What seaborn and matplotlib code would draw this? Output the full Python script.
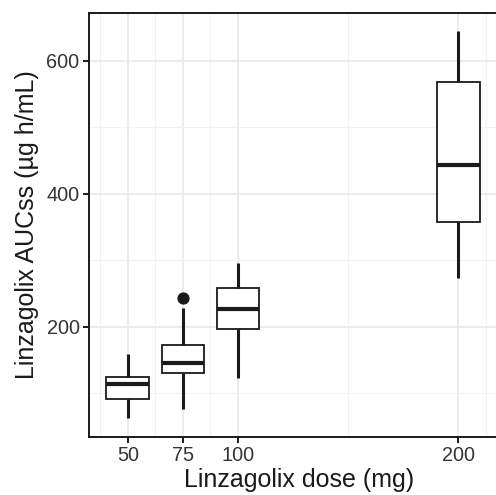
import numpy as np
import pandas as pd
import matplotlib
matplotlib.use("Agg")
import matplotlib.pyplot as plt
import seaborn as sns
from matplotlib.ticker import FixedLocator

# Reconstructed observations (read from box statistics: min, q1, median, q3, max)
dose_50 = [63.6, 80.0, 91.3, 102.0, 114.3, 119.0, 124.4, 140.0, 159.4]
dose_75 = [77.2, 105.0, 130.4, 138.0, 145.4, 160.0, 173.0, 228.0, 243.0]
dose_100 = [122.8, 165.0, 196.5, 212.0, 227.0, 243.0, 259.0, 280.0, 295.8]
dose_200 = [273.0, 320.0, 358.0, 400.0, 443.6, 505.0, 568.0, 610.0, 645.0]

doses = [50, 75, 100, 200]
x_ticks = [50, 75, 100, 200]
y_ticks = [200, 400, 600]

df = pd.DataFrame({
    "dose": [50] * len(dose_50) + [75] * len(dose_75) + [100] * len(dose_100) + [200] * len(dose_200),
    "auc": dose_50 + dose_75 + dose_100 + dose_200,
})

sns.set_theme(style="white")
plt.rcParams["font.family"] = ["Liberation Sans", "DejaVu Sans"]

fig = plt.figure(figsize=(4.96, 4.95), dpi=100)
ax = fig.add_axes([89 / 496, 58 / 495, 421 / 496, 424 / 495])

sns.boxplot(
    data=df, x="dose", y="auc", native_scale=True, width=0.78,
    color="white", linecolor="#1a1a1a", linewidth=1.3,
    medianprops=dict(linewidth=3.0, color="#1a1a1a"),
    whiskerprops=dict(linewidth=2.2, color="#1a1a1a"),
    capprops=dict(linewidth=0),
    flierprops=dict(marker="o", markersize=7.8, markerfacecolor="#1a1a1a",
                    markeredgecolor="#1a1a1a"),
    ax=ax, zorder=3,
)

ax.set_xlim(32.3, 223.6)
ax.set_ylim(34.6, 672)
ax.xaxis.set_major_locator(FixedLocator(x_ticks))
ax.yaxis.set_major_locator(FixedLocator(y_ticks))
ax.xaxis.set_minor_locator(FixedLocator([37.5, 62.5, 87.5, 150, 212.5]))
ax.yaxis.set_minor_locator(FixedLocator([100, 300, 500]))
ax.set_xticklabels([str(t) for t in x_ticks])
ax.set_yticklabels([str(t) for t in y_ticks])

ax.grid(True, which="major", color="#EBEBEB", linewidth=1.3, zorder=0)
ax.grid(True, which="minor", color="#F2F2F2", linewidth=0.8, zorder=0)
ax.set_axisbelow(True)

for s in ax.spines.values():
    s.set_visible(True)
    s.set_color("#1a1a1a")
    s.set_linewidth(1.4)

ax.tick_params(axis="both", which="major", direction="out", length=4.3, width=1.4,
               color="#1a1a1a", labelcolor="#333333", labelsize=14.3, pad=2.5,
               bottom=True, left=True)
ax.tick_params(axis="both", which="minor", length=0)

ax.set_xlabel("Linzagolix dose (mg)", fontsize=18, color="#1a1a1a", labelpad=1.5)
ax.set_ylabel("Linzagolix AUCss (µg h/mL)", fontsize=18, color="#1a1a1a", labelpad=5)

fig.savefig("out.png", dpi=100)
